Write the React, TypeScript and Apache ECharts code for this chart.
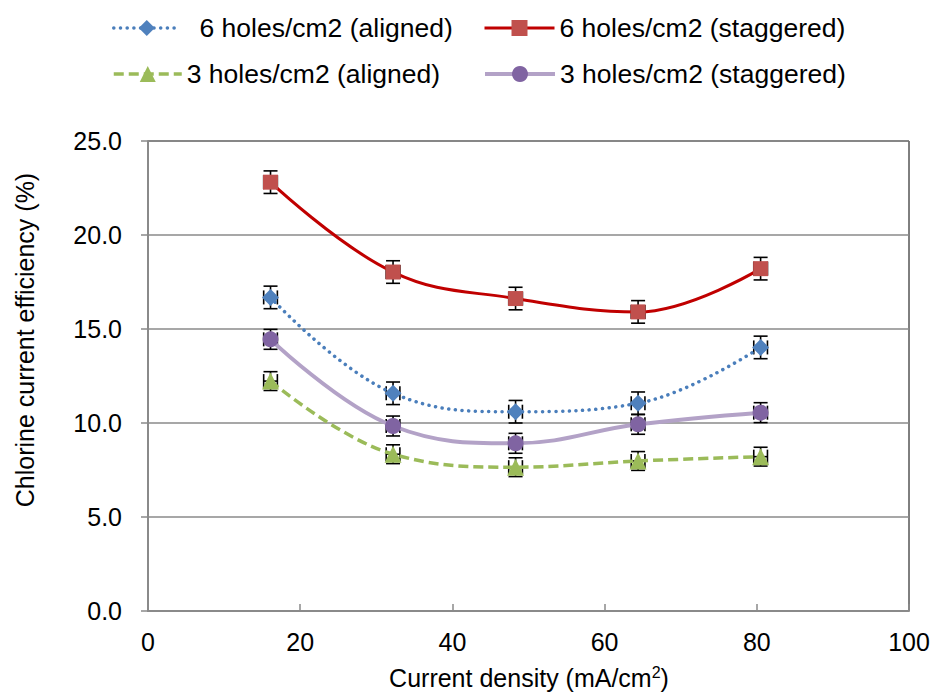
import React, { useEffect, useRef } from "react";
import * as echarts from "echarts";

// Current density (mA/cm2) at which efficiency was measured
const currentDensity = [16.1, 32.2, 48.3, 64.4, 80.5];

// Chlorine current efficiency (%)
const aligned6 = [16.68, 11.58, 10.6, 11.05, 14.02];
const staggered6 = [22.81, 18.03, 16.62, 15.91, 18.21];
const aligned3 = [12.23, 8.34, 7.65, 7.98, 8.21];
const staggered3 = [14.45, 9.84, 8.92, 9.93, 10.55];

// Error bar half-widths (efficiency and current density)
const err6aligned = [0.6, 0.6, 0.6, 0.6, 0.6];
const err6staggered = [0.6, 0.6, 0.6, 0.6, 0.6];
const err3aligned = [0.5, 0.5, 0.5, 0.5, 0.5];
const err3staggered = [0.53, 0.53, 0.53, 0.53, 0.53];
const xErr = [0.9, 0.9, 0.9, 0.9, 0.9];

const yTicks = [0, 5, 10, 15, 20, 25];
const xTicks = [0, 20, 40, 60, 80, 100];

const NAME_6A = "6 holes/cm2 (aligned)";
const NAME_6S = "6 holes/cm2 (staggered)";
const NAME_3A = "3 holes/cm2 (aligned)";
const NAME_3S = "3 holes/cm2 (staggered)";

const FONT = "Liberation Sans, Arial, sans-serif";

function pairs(ys: number[]) {
  return currentDensity.map((x, i) => [x, ys[i]]);
}

function errorSeries(ys: number[], errs: number[]) {
  return {
    type: "custom",
    z: 1,
    silent: true,
    data: currentDensity.map((x, i) => [x, ys[i], errs[i], xErr[i]]),
    renderItem: (params: any, api: any) => {
      const x = api.value(0);
      const y = api.value(1);
      const e = api.value(2);
      const xe = api.value(3);
      const c = api.coord([x, y]);
      const top = api.coord([x, y + e]);
      const bot = api.coord([x, y - e]);
      const left = api.coord([x - xe, y]);
      const right = api.coord([x + xe, y]);
      const cap = 7;
      const style = { stroke: "#000", lineWidth: 1.6 };
      const mk = (x1: number, y1: number, x2: number, y2: number) => ({
        type: "line",
        shape: { x1, y1, x2, y2 },
        style,
      });
      return {
        type: "group",
        children: [
          mk(c[0], top[1], c[0], bot[1]),
          mk(c[0] - cap, top[1], c[0] + cap, top[1]),
          mk(c[0] - cap, bot[1], c[0] + cap, bot[1]),
          mk(left[0], c[1], right[0], c[1]),
          mk(left[0], c[1] - cap, left[0], c[1] + cap),
          mk(right[0], c[1] - cap, right[0], c[1] + cap),
        ],
      };
    },
  };
}

function legendFor(
  name: string,
  left: number,
  top: number,
  width: number,
  lineWidth: number,
  prefix = ""
) {
  return {
    data: [name],
    left,
    top,
    padding: 0,
    itemWidth: width,
    itemHeight: 20,
    selectedMode: false,
    formatter: (n: string) => prefix + n,
    lineStyle: { width: lineWidth },
    textStyle: { fontFamily: FONT, fontSize: 26.5, color: "#000", lineHeight: 30 },
  };
}

export default function App() {
  const ref = useRef<HTMLDivElement>(null);

  useEffect(() => {
    if (!ref.current) return;
    const chart = echarts.init(ref.current, undefined, { renderer: "svg" });
    chart.setOption({
      animation: false,
      backgroundColor: "#fff",
      textStyle: { fontFamily: FONT },
      grid: {
        left: 148,
        right: 26,
        top: 141,
        bottom: 84,
        show: true,
        borderColor: "#000",
        borderWidth: 1,
        backgroundColor: "transparent",
      },
      legend: [
        legendFor(NAME_6A, 112, 13, 66, 3.5, "\u00a0\u00a0"),
        legendFor(NAME_6S, 483, 13, 70, 3),
        legendFor(NAME_3A, 112, 59, 68, 3.5),
        legendFor(NAME_3S, 483, 59, 70, 4),
      ],
      xAxis: {
        type: "value",
        min: xTicks[0],
        max: xTicks[xTicks.length - 1],
        interval: 20,
        axisLine: { show: true, lineStyle: { color: "#8a8a8a", width: 2 } },
        axisTick: { show: true, inside: true, length: 7, lineStyle: { color: "#8a8a8a", width: 1.5 } },
        splitLine: { show: false },
        axisLabel: { fontSize: 25, color: "#000", margin: 18, fontFamily: FONT },
      },
      yAxis: {
        type: "value",
        min: yTicks[0],
        max: yTicks[yTicks.length - 1],
        interval: 5,
        axisLine: { show: true, lineStyle: { color: "#8a8a8a", width: 2 } },
        axisTick: { show: true, inside: false, length: 7, lineStyle: { color: "#8a8a8a", width: 1.5 } },
        splitLine: { show: true, lineStyle: { color: "#8a8a8a", width: 1.5 } },
        axisLabel: {
          fontSize: 25,
          color: "#000",
          margin: 26,
          fontFamily: FONT,
          formatter: (v: number) => v.toFixed(1),
        },
      },
      graphic: [
        {
          type: "text",
          x: 25,
          y: 340,
          rotation: Math.PI / 2,
          style: {
            text: "Chlorine current efficiency (%)",
            fontSize: 25,
            fontFamily: FONT,
            fill: "#000",
            align: "center",
            verticalAlign: "middle",
          },
        },
        {
          type: "text",
          x: 529,
          y: 678,
          style: {
            text: "{t|Current density (mA/cm}{s|2}{t|)}",
            align: "center",
            verticalAlign: "middle",
            rich: {
              t: { fontSize: 25, fontFamily: FONT, color: "#000" },
              s: { fontSize: 16, fontFamily: FONT, color: "#000", padding: [0, 0, 12, 0] },
            },
          },
        },
      ],
      series: [
        errorSeries(aligned6, err6aligned),
        errorSeries(staggered6, err6staggered),
        errorSeries(aligned3, err3aligned),
        errorSeries(staggered3, err3staggered),
        {
          name: NAME_6A,
          type: "line",
          z: 3,
          smooth: 0.4,
          data: pairs(aligned6),
          symbol: "diamond",
          symbolSize: 17,
          itemStyle: { color: "#4F81BD" },
          lineStyle: { color: "#4A7EBB", width: 3.5, type: [0.1, 6.6], cap: "round" },
        },
        {
          name: NAME_6S,
          type: "line",
          z: 3,
          smooth: 0.4,
          data: pairs(staggered6),
          symbol: "rect",
          symbolSize: 15,
          itemStyle: { color: "#C0504D" },
          lineStyle: { color: "#C00000", width: 3 },
        },
        {
          name: NAME_3A,
          type: "line",
          z: 3,
          smooth: 0.4,
          data: pairs(aligned3),
          symbol: "triangle",
          symbolSize: 17,
          itemStyle: { color: "#9BBB59" },
          lineStyle: { color: "#9BBB59", width: 3.5, type: [10, 5] },
        },
        {
          name: NAME_3S,
          type: "line",
          z: 3,
          smooth: 0.4,
          data: pairs(staggered3),
          symbol: "circle",
          symbolSize: 16,
          itemStyle: { color: "#8064A2" },
          lineStyle: { color: "#B3A2C7", width: 4 },
        },
      ],
    });
    return () => chart.dispose();
  }, []);

  return <div ref={ref} style={{ width: 935, height: 695, position: "absolute", left: 0, top: 0 }} />;
}
